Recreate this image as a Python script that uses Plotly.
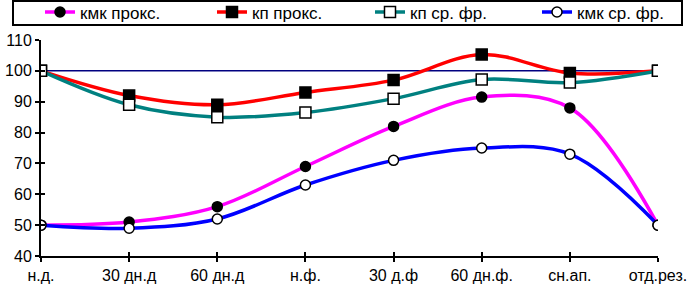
import plotly.graph_objects as go

categories = ["н.д.", "30 дн.д", "60 дн.д", "н.ф.", "30 д.ф", "60 дн.ф.", "сн.ап.", "отд.рез."]
kmk_prox = [50, 51, 56, 69, 82, 91.5, 88, 50]
kp_prox = [100, 92, 89, 93, 97, 105.3, 99.3, 100]
kp_srfr = [100, 89, 85, 86.5, 91, 97.2, 96.2, 100]
kmk_srfr = [50, 49, 52, 63, 71, 75, 73, 50]
ref_level = [100] * len(categories)
y_ticks = [40, 50, 60, 70, 80, 90, 100, 110]

xs = list(range(len(categories)))
FONT = "Liberation Sans, Arial, sans-serif"
W, H = 693, 291
ML, MR, MT, MB = 41, 35, 40, 35
PW, PH = W - ML - MR, H - MT - MB

def px_to_paper_x(px):
    return (px - ML) / PW

def px_to_paper_y(py):
    return (H - MB - py) / PH

fig = go.Figure()
fig.add_trace(go.Scatter(x=xs, y=ref_level, mode="lines", line=dict(color="#000080", width=1.5),
                         showlegend=False, hoverinfo="skip"))
series = [
    ("кмк прокс.", kmk_prox, "#ff00ff", "circle", "black", 10, "legend", 80),
    ("кп прокс.", kp_prox, "#ff0000", "square", "black", 11, "legend2", 252),
    ("кп ср. фр.", kp_srfr, "#008080", "square", "white", 11, "legend3", 410),
    ("кмк ср. фр.", kmk_srfr, "#0000ff", "circle", "white", 10, "legend4", 577),
]
legends = {}
for name, vals, col, sym, fill, sz, lg, text_x in series:
    fig.add_trace(go.Scatter(
        x=xs, y=vals, name=name, mode="lines+markers", legend=lg,
        line=dict(color=col, width=3.5, shape="spline", smoothing=1.0),
        marker=dict(symbol=sym, size=sz, color=fill, line=dict(color="black", width=1.5)),
    ))
    legends[lg] = dict(orientation="h", x=(text_x - 40) / W, xanchor="left", xref="container",
                       y=(H - 12.5) / H, yanchor="middle", yref="container", borderwidth=0,
                       bgcolor="rgba(0,0,0,0)", font=dict(family=FONT, size=17))

axis_common = dict(showgrid=False, zeroline=False, showline=True, linecolor="black", linewidth=2,
                   ticks="outside", ticklen=4, tickwidth=2, tickcolor="black",
                   tickfont=dict(size=16), automargin=False)
fig.update_layout(
    width=W, height=H,
    margin=dict(l=ML, r=MR, t=MT, b=MB, autoexpand=False),
    paper_bgcolor="white", plot_bgcolor="white",
    font=dict(family=FONT, size=16, color="black"),
    showlegend=True,
    xaxis=dict(range=[0, 7], tickvals=xs, ticktext=categories, **axis_common),
    yaxis=dict(range=[40, 110], tickvals=y_ticks, **axis_common),
    xaxis2=dict(range=[0, 7], tickvals=xs, ticktext=[""] * len(xs), overlaying="x", side="bottom",
                showgrid=False, zeroline=False, showline=False, ticks="inside", ticklen=4,
                tickwidth=2, tickcolor="black", automargin=False),
    yaxis2=dict(range=[40, 110], tickvals=y_ticks, ticktext=[""] * len(y_ticks), overlaying="y",
                side="left", showgrid=False, zeroline=False, showline=False, ticks="inside",
                ticklen=4, tickwidth=2, tickcolor="black", automargin=False),
    **legends,
)
fig.add_shape(type="rect", xref="paper", yref="paper",
              x0=px_to_paper_x(13), x1=px_to_paper_x(682),
              y0=px_to_paper_y(25), y1=px_to_paper_y(1),
              line=dict(color="black", width=2), fillcolor="rgba(0,0,0,0)", layer="above")
fig.add_trace(go.Scatter(x=[0], y=[40], xaxis="x2", yaxis="y2", mode="markers",
                         marker=dict(opacity=0), showlegend=False, hoverinfo="skip"))
fig.write_html("out.html", config={"displayModeBar": False},
               post_script="document.body.style.margin='0px';")
